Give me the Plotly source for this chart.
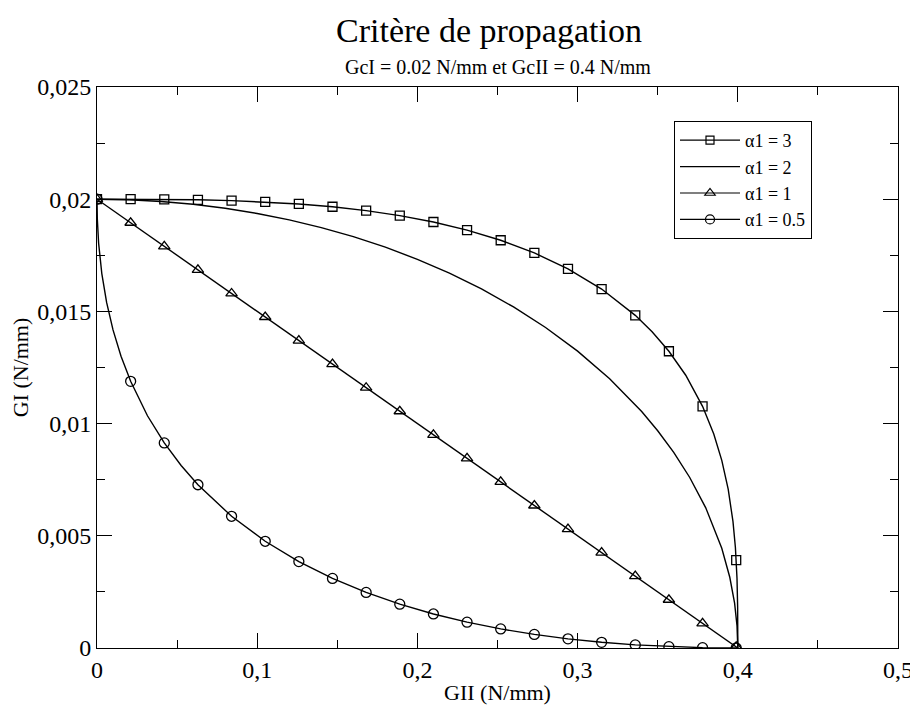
import plotly.graph_objects as go

# ---- data (GII in N/mm, GI in N/mm) ----
# marker positions (shared GII values)
gii_markers = [0.0, 0.021, 0.042, 0.063, 0.084, 0.105, 0.126, 0.147, 0.168, 0.189,
               0.210, 0.231, 0.252, 0.273, 0.294, 0.315, 0.336, 0.357, 0.378, 0.399]

gi_a3_markers = [0.02, 0.019999, 0.019992, 0.019974, 0.019938, 0.019879, 0.019789, 0.019663,
                 0.019493, 0.019270, 0.018985, 0.018623, 0.018171, 0.017605, 0.016896,
                 0.015996, 0.014825, 0.013224, 0.010769, 0.003912]
gi_a1_markers = [0.02, 0.01895, 0.0179, 0.01685, 0.0158, 0.01475, 0.0137, 0.01265, 0.0116,
                 0.01055, 0.0095, 0.00845, 0.0074, 0.00635, 0.0053, 0.00425, 0.0032,
                 0.00215, 0.0011, 0.00005]
gi_a05_markers = [0.02, 0.011885, 0.009138, 0.007276, 0.005870, 0.004756, 0.003850, 0.003101,
                  0.002477, 0.001955, 0.001517, 0.001153, 0.000851, 0.000605, 0.000407,
                  0.000254, 0.000139, 0.0000611, 0.0000156, 0.0]

# curve traces (denser sampling of the drawn lines)
gii_a3_line = [0.0, 0.021, 0.042, 0.063, 0.084, 0.105, 0.126, 0.147, 0.168, 0.189, 0.210,
               0.231, 0.252, 0.273, 0.294, 0.315, 0.336, 0.3465, 0.357, 0.3675, 0.378,
               0.385, 0.39, 0.394, 0.397, 0.3985, 0.399, 0.3995, 0.3999, 0.4]
gi_a3_line = [0.02, 0.019999, 0.019992, 0.019974, 0.019938, 0.019879, 0.019789, 0.019663,
              0.019493, 0.019270, 0.018985, 0.018623, 0.018171, 0.017605, 0.016896,
              0.015996, 0.014825, 0.014094, 0.013224, 0.012155, 0.010769,
              0.009535, 0.008364, 0.007078, 0.005632, 0.004476, 0.003912, 0.003106,
              0.001817, 0.0]

gii_a2_line = [0.0, 0.02, 0.04, 0.06, 0.08, 0.10, 0.12, 0.14, 0.16, 0.18, 0.20, 0.22, 0.24,
               0.26, 0.28, 0.30, 0.32, 0.34, 0.35, 0.36, 0.37, 0.38, 0.39, 0.395, 0.398,
               0.3995, 0.4]
gi_a2_line = [0.02, 0.019975, 0.019900, 0.019774, 0.019596, 0.019365, 0.019079, 0.018735,
              0.018330, 0.017861, 0.017321, 0.016703, 0.016, 0.015199, 0.014283, 0.013229,
              0.012, 0.010536, 0.009682, 0.008718, 0.007599, 0.006245, 0.004444, 0.003152,
              0.001998, 0.001000, 0.0]

gii_a1_line = gii_markers + [0.4]
gi_a1_line = gi_a1_markers + [0.0]

gii_a05_line = [0.0, 0.0002, 0.001, 0.003, 0.006, 0.01, 0.015, 0.021, 0.0315, 0.042, 0.0525,
                0.063, 0.084, 0.105, 0.126, 0.147, 0.168, 0.189, 0.210, 0.231, 0.252, 0.273,
                0.294, 0.315, 0.336, 0.357, 0.378, 0.399, 0.4]
gi_a05_line = [0.02, 0.019116, 0.01805, 0.016686, 0.015401, 0.014175, 0.013004, 0.011885,
               0.010350, 0.009138, 0.008134, 0.007276, 0.005870, 0.004756, 0.003850,
               0.003101, 0.002477, 0.001955, 0.001517, 0.001153, 0.000851, 0.000605,
               0.000407, 0.000254, 0.000139, 0.0000611, 0.0000156, 0.0, 0.0]

series_names = ["α1 = 3", "α1 = 2", "α1 = 1", "α1 = 0.5"]

x_ticks = [0, 0.1, 0.2, 0.3, 0.4, 0.5]
y_ticks = [0, 0.005, 0.01, 0.015, 0.02, 0.025]

FONT = "Liberation Serif"
BLACK = "black"

# the page body has an 8 px margin: size the figure so the drawing lands where the reference has it
W, H = 910, 698
ML, MR, MT, MB = 89, 20, 79, 58

fig = go.Figure()

def add_series(name, xl, yl, xm=None, ym=None, symbol=None, msize=9):
    fig.add_trace(go.Scatter(x=xl, y=yl, mode="lines", line=dict(color=BLACK, width=1.4),
                             showlegend=False, hoverinfo="skip"))
    if xm is not None:
        fig.add_trace(go.Scatter(x=xm, y=ym, mode="markers", showlegend=False,
                                 marker=dict(symbol=symbol, size=msize, color=BLACK,
                                             line=dict(color=BLACK, width=1.3))))
        fig.add_trace(go.Scatter(x=[None], y=[None], mode="lines+markers", name=name,
                                 line=dict(color=BLACK, width=1.2),
                                 marker=dict(symbol=symbol, size=msize - 1, color=BLACK,
                                             line=dict(color=BLACK, width=1.2))))
    else:
        fig.add_trace(go.Scatter(x=[None], y=[None], mode="lines", name=name,
                                 line=dict(color=BLACK, width=1.2)))

add_series(series_names[0], gii_a3_line, gi_a3_line, gii_markers, gi_a3_markers, "square-open", 9)
add_series(series_names[1], gii_a2_line, gi_a2_line)
add_series(series_names[2], gii_a1_line, gi_a1_line, gii_markers, gi_a1_markers, "triangle-up-open", 10)
add_series(series_names[3], gii_a05_line, gi_a05_line, gii_markers, gi_a05_markers, "circle-open", 10)

axis_common = dict(
    showgrid=False, zeroline=False, showline=True, linecolor=BLACK, linewidth=1,
    mirror="ticks", ticks="inside", ticklen=15, tickwidth=1, tickcolor=BLACK,
    tickfont=dict(family=FONT, size=24, color=BLACK), automargin=False,
)

fig.update_xaxes(range=[0, 0.5], tickvals=x_ticks, ticktext=[str(v).replace(".", ",") for v in x_ticks],
                 minor=dict(ticks="inside", ticklen=8, dtick=0.05, tickcolor=BLACK, tickwidth=1),
                 title=dict(text="GII (N/mm)", font=dict(family=FONT, size=22, color=BLACK), standoff=2),
                 **axis_common)
fig.update_yaxes(range=[0, 0.025], tickvals=y_ticks, ticktext=[str(v).replace(".", ",") for v in y_ticks],
                 minor=dict(ticks="inside", ticklen=8, dtick=0.0025, tickcolor=BLACK, tickwidth=1),
                 title=dict(text="GI (N/mm)", font=dict(family=FONT, size=22, color=BLACK), standoff=10),
                 **axis_common)

plot_w = W - ML - MR
plot_h = H - MT - MB

fig.update_layout(
    width=W, height=H,
    margin=dict(l=ML, r=MR, t=MT, b=MB, autoexpand=False),
    paper_bgcolor="white", plot_bgcolor="white",
    font=dict(family=FONT, color=BLACK),
    separators=", ",
    showlegend=True,
    legend=dict(x=(666 - ML) / plot_w, y=1 - (113 - MT) / plot_h, xanchor="left", yanchor="top",
                bordercolor=BLACK, borderwidth=1, bgcolor="white",
                font=dict(family=FONT, size=18, color=BLACK),
                tracegroupgap=0, itemwidth=60),
    annotations=[
        dict(text="Critère de propagation", x=0.49, y=1 + (MT - 22) / plot_h, xref="paper", yref="paper",
             yanchor="middle", showarrow=False, font=dict(family=FONT, size=34, color=BLACK)),
        dict(text="GcI = 0.02 N/mm et GcII = 0.4 N/mm", x=0.5, y=1 + (MT - 59) / plot_h,
             xref="paper", yref="paper", yanchor="middle", showarrow=False,
             font=dict(family=FONT, size=20, color=BLACK)),
    ],
)

fig.write_html("out.html")
